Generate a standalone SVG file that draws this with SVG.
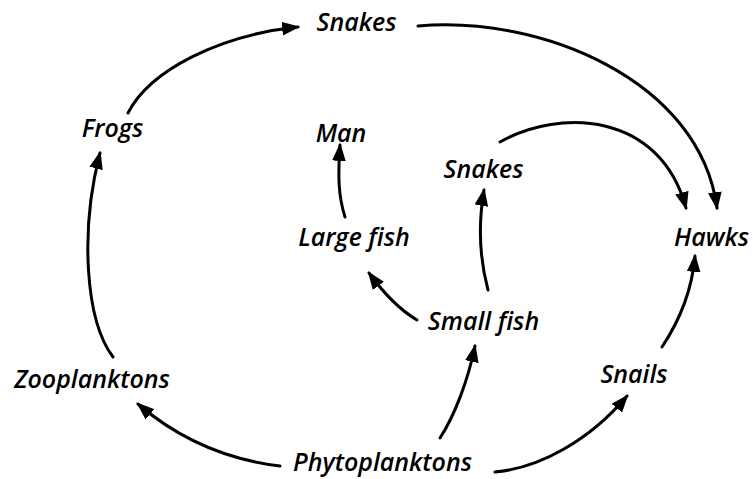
<svg xmlns="http://www.w3.org/2000/svg" width="753" height="479" viewBox="0 0 753 479">
<defs>
<style>
text{font-family:"Open Sans","Liberation Sans",sans-serif;font-style:italic;font-weight:600;font-size:25px;fill:#000;text-anchor:middle}
.c{fill:none;stroke:#000;stroke-width:3;stroke-linecap:round;marker-end:url(#ah)}
</style>
<marker id="ah" markerUnits="userSpaceOnUse" markerWidth="18" markerHeight="14" refX="15" refY="6.5" orient="auto" viewBox="0 0 17 13">
<path d="M0,0 L17,6.5 L0,13 z" fill="#000"/>
</marker>
</defs>
<rect width="753" height="479" fill="#fff"/>
<g id="connectors">
<path class="c" d="M128,113 C150,70 220,35 298,27"/>
<path class="c" d="M418,26 C540,15 700,80 717,208"/>
<path class="c" d="M500,142 C560,108 660,112 686,208"/>
<path class="c" d="M113,357 C85,320 80,230 100,153"/>
<path class="c" d="M345,217 C338,195 338,175 340,145"/>
<path class="c" d="M417,320 C400,310 385,295 369,273"/>
<path class="c" d="M488,290 C480,260 478,225 484,190"/>
<path class="c" d="M280,466 C230,460 180,440 138,404"/>
<path class="c" d="M440,438 C455,415 468,380 475,346"/>
<path class="c" d="M495,472 C540,468 590,440 627,396"/>
<path class="c" d="M662,347 C680,320 692,290 695,256"/>
</g>
<g id="snakes-top"><text x="356.5" y="31">Snakes</text></g>
<g id="frogs"><text x="112.5" y="137">Frogs</text></g>
<g id="man"><text x="341" y="142">Man</text></g>
<g id="snakes-mid"><text x="483.5" y="178">Snakes</text></g>
<g id="large-fish"><text x="354" y="246">Large fish</text></g>
<g id="hawks"><text x="711.5" y="246">Hawks</text></g>
<g id="small-fish"><text x="483.5" y="330">Small fish</text></g>
<g id="zooplanktons"><text x="92" y="388">Zooplanktons</text></g>
<g id="snails"><text x="634" y="383">Snails</text></g>
<g id="phytoplanktons"><text x="382.5" y="471">Phytoplanktons</text></g>
</svg>
